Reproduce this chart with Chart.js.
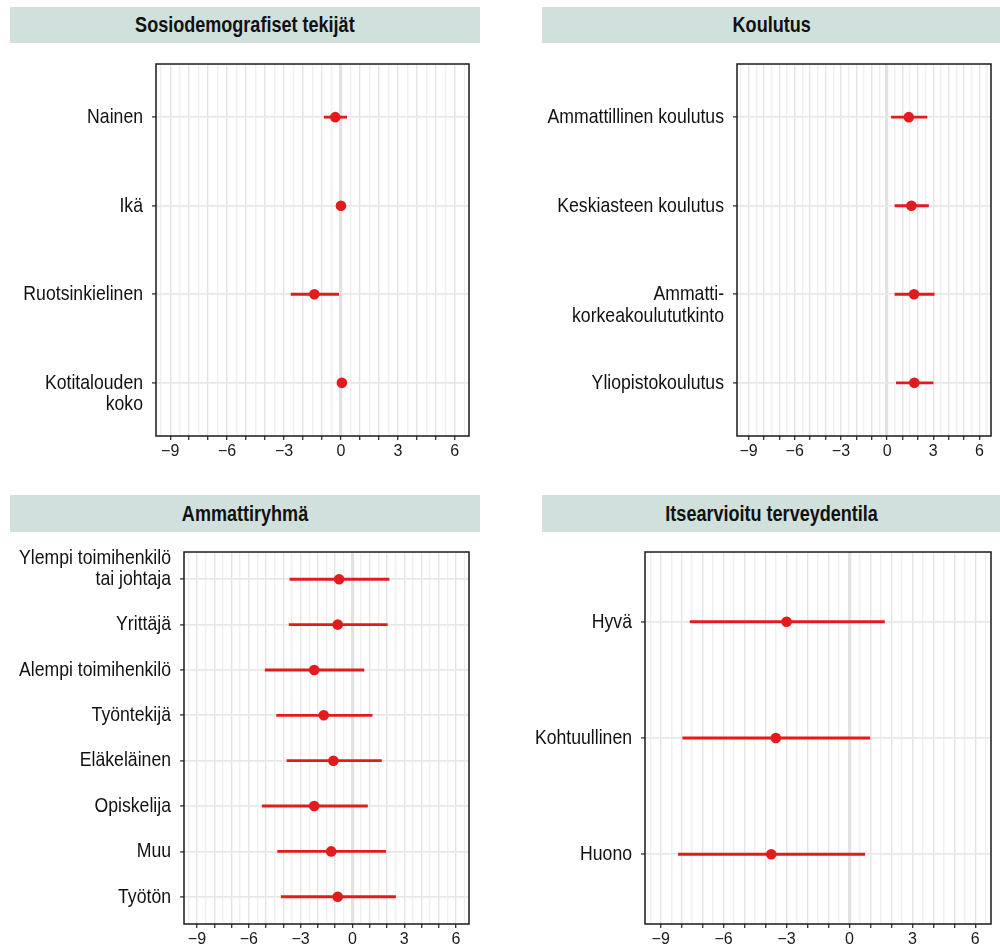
<!DOCTYPE html>
<html>
<head>
<meta charset="utf-8">
<script src="https://cdn.jsdelivr.net/npm/chart.js@4"></script>
<style>
  html, body { margin: 0; padding: 0; background: #fff; width: 1000px; height: 950px; overflow: hidden; position: relative; }
  .hdr { position: absolute; box-sizing: border-box; background: #d0e0dc; border: 1px solid #d8dcdb;
         display: flex; align-items: center; justify-content: center; overflow: hidden;
         font-family: 'Liberation Sans', Arial, sans-serif;
         font-weight: bold; font-size: 22px; color: #111; }
  .hdr span { display: inline-block; transform: scaleX(0.82); transform-origin: center; white-space: nowrap; }
  canvas { position: absolute; }
</style>
</head>
<body>
<script>
// ---------- DATA ----------
const xTickStep = 3;

const socioTitle = 'Sosiodemografiset tekijät';
const socioLabels = [['Nainen'], ['Ikä'], ['Ruotsinkielinen'], ['Kotitalouden', 'koko']];
const socioEst  = [-0.30, 0.00, -1.40, 0.05];
const socioLow  = [-0.88, -0.06, -2.63, -0.05];
const socioHigh = [ 0.30, 0.06, -0.12, 0.15];

const eduTitle = 'Koulutus';
const eduLabels = [['Ammattillinen koulutus'], ['Keskiasteen koulutus'], ['Ammatti-', 'korkeakoulututkinto'], ['Yliopistokoulutus']];
const eduEst  = [1.41, 1.58, 1.75, 1.77];
const eduLow  = [0.28, 0.51, 0.51, 0.60];
const eduHigh = [2.59, 2.69, 3.06, 2.99];

const occTitle = 'Ammattiryhmä';
const occLabels = [['Ylempi toimihenkilö', 'tai johtaja'], ['Yrittäjä'], ['Alempi toimihenkilö'], ['Työntekijä'],
                   ['Eläkeläinen'], ['Opiskelija'], ['Muu'], ['Työtön']];
const occEst  = [-0.77, -0.85, -2.21, -1.66, -1.10, -2.21, -1.23, -0.85];
const occLow  = [-3.62, -3.66, -5.05, -4.39, -3.79, -5.22, -4.33, -4.12];
const occHigh = [ 2.12,  2.02,  0.67,  1.14,  1.68,  0.87,  1.93,  2.50];

const healthTitle = 'Itsearvioitu terveydentila';
const healthLabels = [['Hyvä'], ['Kohtuullinen'], ['Huono']];
const healthEst  = [-3.00, -3.51, -3.73];
const healthLow  = [-7.60, -7.95, -8.16];
const healthHigh = [ 1.67,  0.97,  0.73];

// ---------- STYLE / LAYOUT ----------
const FONT = "'Liberation Sans', Arial, sans-serif";
const NARROW = 0.84;           // horizontal squeeze to imitate a condensed face
const RED = '#e41a1c';
const X_MIN = -9.75, X_MAX = 6.75;
const Y_TICK_LEN = 4, Y_PAD = 9;

const panels = [
  { title: socioTitle, labels: socioLabels, est: socioEst, low: socioLow, high: socioHigh, anchor: 'first',
    hdr: {l: 10, t: 7, r: 480, b: 43}, area: {l: 156, t: 64, r: 469, b: 436}, cv: {l: 0, r: 490} },
  { title: eduTitle, labels: eduLabels, est: eduEst, low: eduLow, high: eduHigh, anchor: 'first',
    hdr: {l: 542, t: 7, r: 1001, b: 43}, area: {l: 737, t: 64, r: 991, b: 436}, cv: {l: 500, r: 1000} },
  { title: occTitle, labels: occLabels, est: occEst, low: occLow, high: occHigh, anchor: 'last',
    hdr: {l: 10, t: 495, r: 480, b: 532}, area: {l: 184, t: 552, r: 469, b: 924}, cv: {l: 0, r: 490} },
  { title: healthTitle, labels: healthLabels, est: healthEst, low: healthLow, high: healthHigh, anchor: 'first',
    hdr: {l: 542, t: 495, r: 1001, b: 532}, area: {l: 645, t: 552, r: 991, b: 924}, cv: {l: 500, r: 1000} }
];

const framePlugin = {
  id: 'frame',
  afterDraw(chart) {
    const {ctx, chartArea: a} = chart;
    ctx.save();
    ctx.strokeStyle = '#1a1a1a';
    ctx.lineWidth = 1.5;
    ctx.strokeRect(a.left, a.top, a.right - a.left, a.bottom - a.top);
    ctx.restore();
  }
};

// squeeze y tick labels horizontally about their right-aligned anchor
const narrowLabelsPlugin = {
  id: 'narrowLabels',
  beforeDraw(chart) {
    const s = chart.scales.y;
    if (!s || s._narrowed) return;
    const orig = s.drawLabels.bind(s);
    s._computeLabelArea = function () { return undefined; };
    s.drawLabels = function (area) {
      const ctx = this.ctx;
      const x0 = this.right - Y_TICK_LEN - Y_PAD;
      ctx.save();
      ctx.translate(x0, 0);
      ctx.scale(NARROW, 1);
      ctx.translate(-x0, 0);
      orig(area);
      ctx.restore();
    };
    s._narrowed = true;
  }
};

function fmt(v) {
  return v < 0 ? '\u2212' + Math.abs(v) : String(v);
}

panels.forEach((p) => {
  const h = document.createElement('div');
  h.className = 'hdr';
  h.style.left = p.hdr.l + 'px';
  h.style.top = p.hdr.t + 'px';
  h.style.width = (p.hdr.r - p.hdr.l) + 'px';
  h.style.height = (p.hdr.b - p.hdr.t) + 'px';
  const sp = document.createElement('span');
  sp.textContent = p.title;
  h.appendChild(sp);
  document.body.appendChild(h);

  const padTop = 12, axisH = 30;
  const cvTop = p.area.t - padTop;
  const cvH = p.area.b - cvTop + axisH;
  const cvW = p.cv.r - p.cv.l;
  const canvas = document.createElement('canvas');
  canvas.width = cvW; canvas.height = cvH;
  canvas.style.left = p.cv.l + 'px';
  canvas.style.top = cvTop + 'px';
  canvas.style.width = cvW + 'px';
  canvas.style.height = cvH + 'px';
  document.body.appendChild(canvas);

  const n = p.labels.length;
  const bars = p.labels.map((_, i) => ({ y: i + 1, x: [p.low[i], p.high[i]] }));
  const pts = p.labels.map((_, i) => ({ y: i + 1, x: p.est[i] }));

  new Chart(canvas, {
    type: 'bar',
    data: {
      datasets: [
        { type: 'bar', indexAxis: 'y', data: bars, backgroundColor: RED, borderWidth: 0,
          barThickness: 2.2, order: 2 },
        { type: 'scatter', data: pts, pointRadius: 5.3, pointBackgroundColor: RED,
          pointBorderWidth: 0, pointBorderColor: RED, order: 1 }
      ]
    },
    options: {
      responsive: false,
      animation: false,
      devicePixelRatio: 1,
      layout: { padding: { top: padTop, right: p.cv.r - p.area.r, bottom: 0, left: 0 } },
      plugins: { legend: { display: false }, tooltip: { enabled: false }, title: { display: false } },
      scales: {
        x: {
          type: 'linear', min: X_MIN, max: X_MAX, offset: false,
          afterBuildTicks(scale) {
            const t = [];
            for (let i = Math.ceil(X_MIN * 2); i <= Math.floor(X_MAX * 2); i++) t.push({ value: i / 2 });
            scale.ticks = t;
          },
          afterFit(scale) { scale.height = axisH; scale.paddingLeft = 0; scale.paddingRight = 0; },
          border: { display: false },
          grid: {
            offset: false, drawTicks: true, tickLength: 4,
            color: c => c.tick && c.tick.value === 0 ? '#e2e2e2' : (c.tick && Number.isInteger(c.tick.value) ? '#e4e4e4' : '#f0f0f0'),
            lineWidth: c => c.tick && c.tick.value === 0 ? 3.2 : 1.4,
            tickColor: c => c.tick && Number.isInteger(c.tick.value) ? '#333' : 'rgba(0,0,0,0)',
            tickWidth: 1.3
          },
          ticks: {
            autoSkip: false, maxRotation: 0, padding: 2, color: '#1a1a1a',
            font: { family: FONT, size: 16 },
            callback: v => (Number.isInteger(v) && v % xTickStep === 0) ? fmt(v) : ''
          }
        },
        y: {
          type: 'linear', reverse: true, min: 0.4, max: n + 0.6, offset: false,
          afterBuildTicks(scale) { scale.ticks = p.labels.map((_, i) => ({ value: i + 1 })); },
          afterFit(scale) { scale.width = p.area.l - p.cv.l; scale.paddingTop = 0; scale.paddingBottom = 0; },
          border: { display: false },
          grid: { offset: false, color: '#e8e8e8', lineWidth: 1.8, drawTicks: true, tickLength: Y_TICK_LEN,
                  tickColor: '#333', tickWidth: 1.3 },
          ticks: {
            autoSkip: false, padding: Y_PAD, color: '#111',
            font: { family: FONT, size: 21, lineHeight: 1.02 },
            callback: v => {
              const lab = p.labels[v - 1];
              if (!lab) return '';
              if (lab.length === 1) return lab[0];
              return p.anchor === 'first' ? [''].concat(lab) : lab.concat(['']);
            }
          }
        }
      }
    },
    plugins: [framePlugin, narrowLabelsPlugin]
  });
});
</script>
</body>
</html>
